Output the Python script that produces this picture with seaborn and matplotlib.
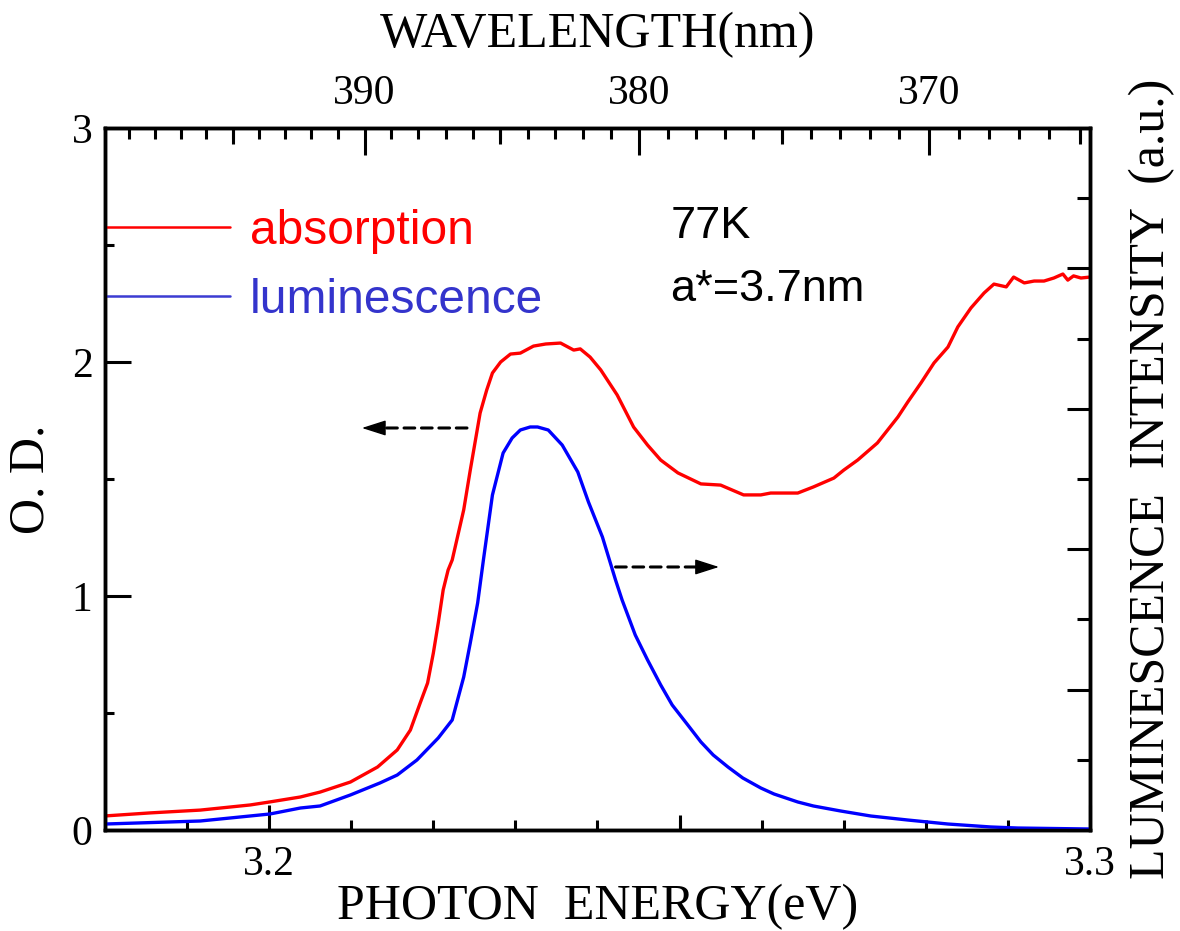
import numpy as np
import pandas as pd
import matplotlib
matplotlib.use("Agg")
import matplotlib.pyplot as plt
from matplotlib.lines import Line2D
from matplotlib.ticker import FixedLocator, MultipleLocator, NullFormatter
import seaborn as sns

# ---------------- data ----------------
abs_energy = [3.1800, 3.1855, 3.1916, 3.1977, 3.2001, 3.2038, 3.2062, 3.2099, 3.2132,
              3.2156, 3.2172, 3.2184, 3.2193, 3.2200, 3.2206, 3.2212, 3.2218, 3.2223,
              3.2237, 3.2245, 3.2257, 3.2265, 3.2272, 3.2282, 3.2294, 3.2306, 3.2322,
              3.2337, 3.2355, 3.2371, 3.2379, 3.2391, 3.2404, 3.2424, 3.2444, 3.2461,
              3.2477, 3.2498, 3.2526, 3.2550, 3.2578, 3.2599, 3.2611, 3.2644, 3.2663,
              3.2688, 3.2700, 3.2717, 3.2741, 3.2766, 3.2778, 3.2794, 3.2810, 3.2827,
              3.2839, 3.2855, 3.2871, 3.2883, 3.2898, 3.2907, 3.2920, 3.2932, 3.2944,
              3.2956, 3.2967, 3.2973, 3.2980, 3.2989, 3.3000]
abs_od = [0.060, 0.073, 0.085, 0.107, 0.120, 0.141, 0.162, 0.205, 0.269,
          0.342, 0.427, 0.543, 0.628, 0.756, 0.885, 1.026, 1.111, 1.154,
          1.368, 1.538, 1.782, 1.880, 1.953, 2.000, 2.034, 2.038, 2.068,
          2.077, 2.081, 2.051, 2.056, 2.021, 1.966, 1.859, 1.722, 1.645,
          1.581, 1.526, 1.479, 1.474, 1.432, 1.432, 1.440, 1.440, 1.466,
          1.504, 1.538, 1.581, 1.654, 1.765, 1.829, 1.910, 1.996, 2.064,
          2.150, 2.231, 2.295, 2.333, 2.321, 2.363, 2.338, 2.346, 2.346,
          2.359, 2.376, 2.350, 2.368, 2.359, 2.363]

lum_energy = [3.1800, 3.1916, 3.2001, 3.2038, 3.2062, 3.2099, 3.2135, 3.2156, 3.2180,
              3.2206, 3.2223, 3.2237, 3.2245, 3.2254, 3.2261, 3.2272, 3.2285, 3.2296,
              3.2306, 3.2318, 3.2327, 3.2340, 3.2357, 3.2376, 3.2389, 3.2406, 3.2422,
              3.2430, 3.2446, 3.2461, 3.2477, 3.2491, 3.2510, 3.2526, 3.2541, 3.2559,
              3.2577, 3.2599, 3.2615, 3.2644, 3.2663, 3.2696, 3.2733, 3.2778, 3.2827,
              3.2879, 3.2912, 3.3000]
lum_int = [0.085, 0.128, 0.228, 0.313, 0.342, 0.499, 0.670, 0.783, 0.997,
           1.311, 1.567, 2.179, 2.664, 3.234, 3.846, 4.772, 5.370, 5.584,
           5.698, 5.741, 5.741, 5.698, 5.484, 5.100, 4.672, 4.174, 3.561,
           3.276, 2.778, 2.422, 2.066, 1.781, 1.496, 1.254, 1.068, 0.897,
           0.741, 0.598, 0.513, 0.399, 0.342, 0.271, 0.199, 0.142, 0.085,
           0.043, 0.028, 0.014]

od_ticks = [0, 1, 2, 3]
energy_ticks = [3.2, 3.3]
energy_tick_labels = ["3.2", "3.3"]
wavelength_ticks = [370, 380, 390]
series_names = ["absorption", "luminescence"]
annotations = ["77K", "a*=3.7nm"]

# ---------------- style ----------------
sns.set_theme(style="ticks")
plt.rcParams["font.family"] = ["Liberation Serif", "DejaVu Serif"]
plt.rcParams["axes.linewidth"] = 2.5
plt.rcParams["xtick.direction"] = "in"
plt.rcParams["ytick.direction"] = "in"
for key in ("text.color", "axes.labelcolor", "xtick.color", "ytick.color",
            "xtick.labelcolor", "ytick.labelcolor", "axes.edgecolor"):
    plt.rcParams[key] = "black"

RED = "#ff0000"
BLUE = "#0000ff"
TICK_FS = 30
LABEL_FS = 36
SANS = ["Liberation Sans", "DejaVu Sans"]

fig = plt.figure(figsize=(11.8, 9.31), dpi=100)
ax = fig.add_axes([0.0890, 0.1085, 0.8347, 0.7540])
ax2 = ax.twinx()

df_abs = pd.DataFrame({"E": abs_energy, "OD": abs_od})
df_lum = pd.DataFrame({"E": lum_energy, "I": lum_int})
sns.lineplot(data=df_abs, x="E", y="OD", ax=ax, color=RED, lw=2.4, sort=False,
             estimator=None)
sns.lineplot(data=df_lum, x="E", y="I", ax=ax2, color=BLUE, lw=2.4, sort=False,
             estimator=None)

ax.set_xlim(3.18, 3.30)
ax.set_ylim(0, 3)
ax2.set_ylim(0, 10)

for a in (ax, ax2):
    for s in a.spines.values():
        s.set_linewidth(2.5)
        s.set_color("black")

# bottom axis
ax.set_xticks(energy_ticks)
ax.set_xticklabels(energy_tick_labels)
ax.xaxis.set_minor_locator(MultipleLocator(0.01))
ax.tick_params(axis="x", which="major", length=18, width=2.2, labelsize=TICK_FS,
               pad=11, top=False, color="black", labelcolor="black")
ax.tick_params(axis="x", which="minor", length=7.2, width=2.2, top=False,
               color="black")
sec_b = ax.secondary_xaxis("bottom")
sec_b.set_xticks([3.25])
sec_b.xaxis.set_major_formatter(NullFormatter())
sec_b.tick_params(axis="x", which="major", length=10.8, width=2.2, direction="in",
                  color="black")
sec_b.xaxis.set_minor_locator(FixedLocator([]))
sec_b.spines["bottom"].set_visible(False)

# left axis
ax.set_yticks(od_ticks)
ax.yaxis.set_minor_locator(MultipleLocator(0.5))
ax.tick_params(axis="y", which="major", length=18.7, width=2.2, labelsize=TICK_FS,
               pad=9, right=False, color="black", labelcolor="black")
ax.tick_params(axis="y", which="minor", length=6.5, width=2.2, right=False,
               color="black")

# right axis
ax2.set_yticks([0, 2, 4, 6, 8, 10])
ax2.yaxis.set_minor_locator(MultipleLocator(1))
ax2.yaxis.set_major_formatter(NullFormatter())
ax2.tick_params(axis="y", which="major", length=16.5, width=2.2, direction="in",
                color="black")
ax2.tick_params(axis="y", which="minor", length=9.4, width=2.2, direction="in",
                color="black")
ax2.set_ylabel("")


# top wavelength axis
def e2lam(e):
    e = np.asarray(e, dtype=float)
    with np.errstate(divide="ignore", invalid="ignore"):
        return 1239.84 / (3.1 + (e - 3.18) * 2.5)


def lam2e(lam):
    lam = np.asarray(lam, dtype=float)
    with np.errstate(divide="ignore", invalid="ignore"):
        return 3.18 + (1239.84 / lam - 3.1) / 2.5


sec_t = ax.secondary_xaxis("top", functions=(e2lam, lam2e))
sec_t.set_xticks(wavelength_ticks)
sec_t.set_xticklabels([str(w) for w in wavelength_ticks])
sec_t.xaxis.set_minor_locator(MultipleLocator(1))
sec_t.tick_params(axis="x", which="major", length=19.4, width=2.2, direction="in",
                  labelsize=TICK_FS, pad=11, color="black", labelcolor="black")
sec_t.tick_params(axis="x", which="minor", length=8, width=2.2, direction="in",
                  color="black")
sec_t.spines["top"].set_visible(False)

sec_t2 = ax.secondary_xaxis("top", functions=(e2lam, lam2e))
sec_t2.set_xticks([365, 375, 385, 395])
sec_t2.xaxis.set_major_formatter(NullFormatter())
sec_t2.xaxis.set_minor_locator(FixedLocator([]))
sec_t2.tick_params(axis="x", which="major", length=11.5, width=2.2, direction="in",
                   color="black")
sec_t2.spines["top"].set_visible(False)

# axis labels
fig.text(0.5064, 0.9625, "WAVELENGTH(nm)", fontsize=LABEL_FS, ha="center",
         va="center", color="black")
ax.set_xlabel("PHOTON  ENERGY(eV)", fontsize=LABEL_FS, labelpad=0, color="black")
ax.set_ylabel("O. D.", fontsize=LABEL_FS, labelpad=12, color="black")
ax2.set_ylabel("LUMINESCENCE  INTENSITY  (a.u.)", fontsize=LABEL_FS, labelpad=24,
               color="black")

for lab in ax.get_xticklabels() + ax.get_yticklabels() + sec_t.get_xticklabels():
    lab.set_fontfamily(["Liberation Serif", "DejaVu Serif"])
    lab.set_color("black")

# legend
handles = [Line2D([], [], color=RED, lw=1.8),
           Line2D([], [], color="#3c3cd2", lw=1.8)]
leg = ax.legend(handles, series_names, loc="upper left",
                bbox_to_anchor=(0.0, 0.885), frameon=False,
                prop={"family": SANS, "size": 34.5}, handlelength=2.6,
                handletextpad=0.42, borderpad=0, borderaxespad=0,
                labelspacing=0.5)
leg.get_texts()[0].set_color(RED)
leg.get_texts()[1].set_color("#3434cc")

# annotations
ax.text(3.2489, 2.58, annotations[0], fontsize=32.5, family=SANS, va="center",
        ha="left", color="black")
ax.text(3.2489, 2.31, annotations[1], fontsize=32.5, family=SANS, va="center",
        ha="left", color="black")

# dashed arrows: dashed shaft + solid head
shaft_kw = dict(arrowstyle="-", color="black", lw=2.2, linestyle=(0, (3.5, 2.2)),
                shrinkA=0, shrinkB=0)
head_kw = dict(arrowstyle="-|>,head_length=1.0,head_width=0.32", color="black",
               lw=1.0, shrinkA=0, shrinkB=0, mutation_scale=15)
ax.annotate("", xy=(3.2138, 1.718), xytext=(3.2241, 1.718), arrowprops=shaft_kw)
ax.annotate("", xy=(3.2113, 1.718), xytext=(3.2138, 1.718), arrowprops=head_kw)
ax.annotate("", xy=(3.2523, 1.124), xytext=(3.2422, 1.124), arrowprops=shaft_kw)
ax.annotate("", xy=(3.2548, 1.124), xytext=(3.2523, 1.124), arrowprops=head_kw)

fig.savefig("out.png", dpi=100)
